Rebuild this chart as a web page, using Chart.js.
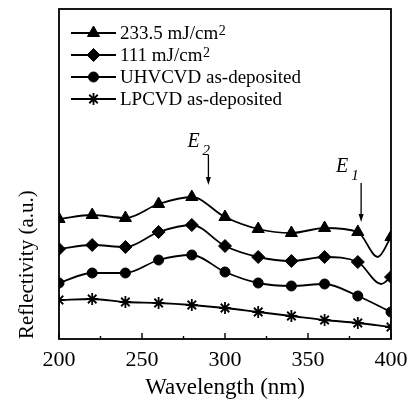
<!DOCTYPE html>
<html><head><meta charset="utf-8">
<script src="https://cdn.jsdelivr.net/npm/chart.js@4/dist/chart.umd.min.js"></script>
<style>html,body{margin:0;padding:0;background:#fff}#wrap{width:409px;height:410px}</style>
</head><body><div id="wrap"><canvas id="c" width="409" height="410"></canvas></div>
<script>
// ---- data ----
const wavelengths = [200,220,240,260,280,300,320,340,360,380,400];
const fluence233 = [120,124,121,135,142,122,110,106,111,107,102];
const fluence111 = [90,94,92,107,114,93,82,78,82,77,62];
const uhvcvd = [56,66,66,79,84,67,56,53,55,43,27];
const lpcvd = [39,40,37,36,34,31,27,23,19,16,12];
// unmarked curve minima near E1 (no symbol drawn there)
const dip233 = {x:392, y:82};
const dip111 = {x:394, y:55};
const seriesLabels = ['233.5 mJ/cm','111 mJ/cm','UHVCVD as-deposited','LPCVD as-deposited'];
const labelSuperscripts = ['2','2','',''];
const pointStyles = ['triangle','rectRot','circle','star'];
const xTickLabels = [200,250,300,350,400];
const xMinorTicks = [225,275,325,375];
const annotationNames = ['E','E'];
const annotationSubs = ['2','1'];
const annotationWavelengths = [290,382];

const FONT = "'Liberation Serif', 'Times New Roman', serif";

function build(vals, dip){
  const pts = wavelengths.map((w,i)=>({x:w,y:vals[i],m:true}));
  if (dip){ pts.push({x:dip.x,y:dip.y,m:false}); pts.sort((a,b)=>a.x-b.x); }
  return pts;
}
const radii = [7,6.5,5,6];
const seriesData = [build(fluence233,dip233), build(fluence111,dip111), build(uhvcvd), build(lpcvd)];

const datasets = seriesData.map((d,i)=>({
  label: seriesLabels[i] + labelSuperscripts[i],
  data: d,
  borderColor:'#000',
  backgroundColor:'#000',
  borderWidth:1.8,
  pointStyle: pointStyles[i],
  pointRadius: ctx => (ctx.raw && ctx.raw.m) ? radii[i] : 0,
  pointHoverRadius: ctx => (ctx.raw && ctx.raw.m) ? radii[i] : 0,
  pointBorderWidth: i===3 ? 1.8 : 1,
  pointBorderColor:'#000',
  pointBackgroundColor:'#000',
  cubicInterpolationMode:'monotone',
  clip: 0
}));

const framePlugin = {
  id:'frame',
  afterDatasetsDraw(chart){
    const {ctx, chartArea:a, scales:{x,y}} = chart;
    ctx.save();
    ctx.strokeStyle='#000'; ctx.lineWidth=1.8;
    ctx.strokeRect(a.left, a.top, a.right-a.left, a.bottom-a.top);
    ctx.beginPath();
    xTickLabels.forEach(v=>{const px=x.getPixelForValue(v); ctx.moveTo(px,a.bottom); ctx.lineTo(px,a.bottom-6);});
    xMinorTicks.forEach(v=>{const px=x.getPixelForValue(v); ctx.moveTo(px,a.bottom); ctx.lineTo(px,a.bottom-3);});
    ctx.lineWidth=1.4; ctx.stroke();

    // legend inside the plot
    ctx.textBaseline='middle'; ctx.textAlign='left';
    chart.data.datasets.forEach((ds,i)=>{
      const yy = a.top + 24 + i*22;
      const x0 = a.left + 12, x1 = a.left + 57;
      ctx.beginPath(); ctx.moveTo(x0,yy); ctx.lineTo(x1,yy);
      ctx.strokeStyle='#000'; ctx.lineWidth=1.8; ctx.stroke();
      ctx.fillStyle='#000'; ctx.strokeStyle='#000';
      ctx.lineWidth = i===3 ? 1.8 : 1;
      Chart.helpers.drawPoint(ctx,{pointStyle:pointStyles[i],radius:radii[i],rotation:0,borderWidth:ctx.lineWidth},(x0+x1)/2,yy);
      ctx.font = '19px ' + FONT;
      ctx.fillStyle='#000';
      const tx = a.left + 61;
      ctx.fillText(seriesLabels[i], tx, yy+1);
      if (labelSuperscripts[i]){
        const w = ctx.measureText(seriesLabels[i]).width;
        ctx.font = '14px ' + FONT;
        ctx.fillText(labelSuperscripts[i], tx+w+0.5, yy-2);
      }
    });

    // E2 / E1 annotations with arrows
    const arrowTops = [184,156], arrowBottoms=[154,117];
    const textOffsets = [[-21,-8],[-25,-11]];
    annotationNames.forEach((nm,i)=>{
      const ax = x.getPixelForValue(annotationWavelengths[i]);
      const yt = y.getPixelForValue(arrowTops[i]);
      const yb = y.getPixelForValue(arrowBottoms[i]);
      ctx.beginPath(); ctx.moveTo(ax,yt); ctx.lineTo(ax,yb-7);
      ctx.strokeStyle='#000'; ctx.lineWidth=1.3; ctx.stroke();
      ctx.beginPath(); ctx.moveTo(ax-2.5,yb-8); ctx.lineTo(ax+2.5,yb-8); ctx.lineTo(ax,yb); ctx.closePath();
      ctx.fillStyle='#000'; ctx.fill();
      ctx.textBaseline='alphabetic';
      ctx.font = 'italic 20px ' + FONT;
      const ex = ax + textOffsets[i][0], ey = yt + textOffsets[i][1];
      ctx.fillText(nm, ex, ey);
      const ew = ctx.measureText(nm).width;
      ctx.font = 'italic 15px ' + FONT;
      ctx.fillText(annotationSubs[i], ex+ew+3, ey+8);
    });
    ctx.restore();
  }
};

new Chart(document.getElementById('c'), {
  type:'line',
  data:{datasets},
  options:{
    responsive:false, animation:false, devicePixelRatio:1,
    layout:{padding:{top:9,right:18,left:0,bottom:0}},
    plugins:{legend:{display:false}, tooltip:{enabled:false}},
    scales:{
      x:{
        type:'linear', min:200, max:400,
        afterBuildTicks: s => { s.ticks = xTickLabels.map(v=>({value:v})); },
        ticks:{font:{family:FONT,size:22},color:'#000',padding:0,maxRotation:0},
        grid:{display:false}, border:{display:false},
        title:{display:true,text:'Wavelength (nm)',font:{family:FONT,size:23},color:'#000',padding:{top:0,bottom:8}},
        afterFit: s => { s.height = 71; }
      },
      y:{
        min:0, max:330,
        ticks:{display:false},
        grid:{display:false}, border:{display:false},
        title:{display:true,text:'Reflectivity (a.u.)',align:'start',font:{family:FONT,size:21},color:'#000',padding:{top:15,bottom:0}},
        afterFit: s => { s.width = 59; }
      }
    }
  },
  plugins:[framePlugin]
});
</script>
</body></html>
